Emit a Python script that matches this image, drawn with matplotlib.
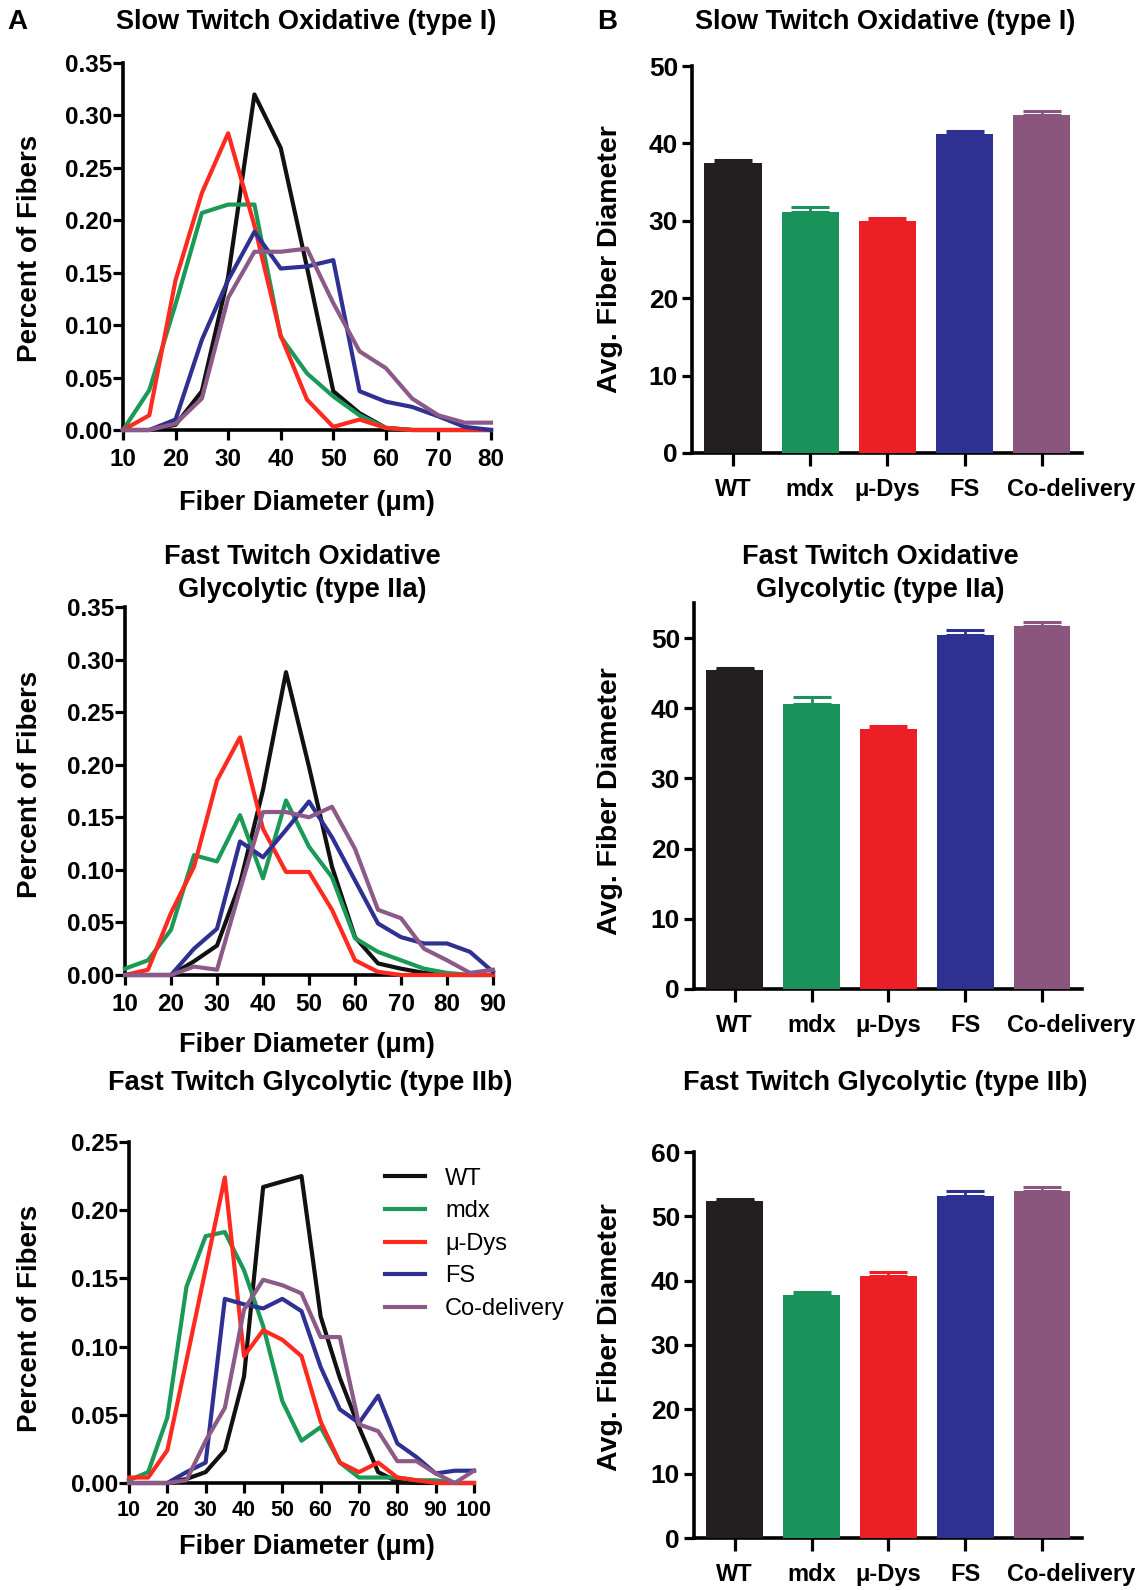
import numpy as np
import matplotlib
matplotlib.use("Agg")
import matplotlib.pyplot as plt
from matplotlib.transforms import ScaledTranslation

plt.rcParams['font.family'] = ['Liberation Sans', 'DejaVu Sans']
plt.rcParams['font.weight'] = 'bold'

# groups and colours
groups = ['WT', 'mdx', 'μ-Dys', 'FS', 'Co-delivery']
line_colors = ['#111111', '#1b9a57', '#ff2a1f', '#2e3192', '#8c5a88']
bar_colors = ['#231f20', '#1a935a', '#ec1f26', '#2e3191', '#8b567e']

# --- fiber diameter distributions (type I), x = 10..80 step 5
x1 = [10, 15, 20, 25, 30, 35, 40, 45, 50, 55, 60, 65, 70, 75, 80]
wt1 = [0, 0, 0.005, 0.037, 0.146, 0.320, 0.269, 0.155, 0.037, 0.016, 0.002, 0, 0, 0, 0]
mdx1 = [0, 0.038, 0.12, 0.207, 0.215, 0.215, 0.089, 0.054, 0.032, 0.014, 0.002, 0, 0, 0, 0]
dys1 = [0, 0.014, 0.143, 0.226, 0.283, 0.195, 0.090, 0.029, 0.003, 0.010, 0.002, 0, 0, 0, 0]
fs1 = [0, 0, 0.010, 0.086, 0.143, 0.189, 0.154, 0.156, 0.162, 0.037, 0.027, 0.022, 0.013, 0.003, 0]
co1 = [0, 0, 0.006, 0.030, 0.126, 0.170, 0.170, 0.173, 0.121, 0.075, 0.059, 0.030, 0.014, 0.007, 0.007]

# --- type IIa, x = 10..90 step 5
x2 = [10, 15, 20, 25, 30, 35, 40, 45, 50, 55, 60, 65, 70, 75, 80, 85, 90]
wt2 = [0, 0, 0, 0.013, 0.028, 0.087, 0.176, 0.288, 0.198, 0.103, 0.036, 0.011, 0.006, 0.002, 0, 0, 0]
mdx2 = [0.006, 0.014, 0.043, 0.114, 0.108, 0.152, 0.092, 0.166, 0.122, 0.093, 0.035, 0.022, 0.014, 0.006, 0.002, 0, 0]
dys2 = [0, 0.005, 0.059, 0.103, 0.185, 0.226, 0.139, 0.098, 0.098, 0.062, 0.014, 0.003, 0, 0, 0, 0, 0]
fs2 = [0, 0, 0, 0.025, 0.044, 0.127, 0.112, 0.138, 0.165, 0.131, 0.090, 0.049, 0.036, 0.030, 0.030, 0.022, 0.003]
co2 = [0, 0, 0, 0.008, 0.005, 0.081, 0.155, 0.155, 0.150, 0.160, 0.120, 0.062, 0.054, 0.025, 0.014, 0.002, 0.005]

# --- type IIb, x = 10..100 step 5
x3 = [10, 15, 20, 25, 30, 35, 40, 45, 50, 55, 60, 65, 70, 75, 80, 85, 90, 95, 100]
wt3 = [0, 0, 0, 0.003, 0.008, 0.024, 0.078, 0.217, 0.221, 0.225, 0.122, 0.077, 0.041, 0.008, 0.001, 0, 0, 0, 0]
mdx3 = [0.002, 0.008, 0.048, 0.144, 0.181, 0.184, 0.156, 0.115, 0.060, 0.031, 0.041, 0.015, 0.004, 0.004, 0.004, 0.002, 0.002, 0, 0]
dys3 = [0.004, 0.004, 0.024, 0.090, 0.157, 0.224, 0.093, 0.112, 0.105, 0.093, 0.045, 0.015, 0.008, 0.015, 0.004, 0.002, 0, 0, 0]
fs3 = [0, 0, 0, 0.008, 0.015, 0.135, 0.131, 0.128, 0.135, 0.126, 0.085, 0.054, 0.044, 0.064, 0.029, 0.019, 0.007, 0.009, 0.009]
co3 = [0, 0, 0, 0.002, 0.031, 0.055, 0.127, 0.149, 0.145, 0.139, 0.107, 0.107, 0.043, 0.038, 0.016, 0.016, 0.007, 0, 0.009]

# --- average fiber diameter (mean, sem)
mean_I = [37.5, 31.1, 30.0, 41.2, 43.7]
sem_I = [0.3, 0.7, 0.35, 0.45, 0.5]
mean_IIa = [45.5, 40.6, 37.0, 50.5, 51.7]
sem_IIa = [0.25, 1.0, 0.5, 0.65, 0.6]
mean_IIb = [52.4, 37.7, 40.8, 53.2, 53.9]
sem_IIb = [0.35, 0.55, 0.6, 0.8, 0.7]

W, H = 1146, 1590
fig = plt.figure(figsize=(W / 100, H / 100), dpi=100)


def px_axes(l, t, r, b):
    return fig.add_axes([l / W, 1 - b / H, (r - l) / W, (b - t) / H])


def style(ax, ticksize=17.5, pad=4):
    for s in ['top', 'right']:
        ax.spines[s].set_visible(False)
    for s in ['left', 'bottom']:
        ax.spines[s].set_linewidth(2.6)
    ax.tick_params(width=2.3, length=7, labelsize=ticksize, pad=pad)


def ftext(x, y, s, size=19.5, **kw):
    fig.text(x / W, 1 - y / H, s, ha='center', va='center', fontsize=size,
             fontweight='bold', **kw)


# line plots
line_sets = [
    (x1, [wt1, mdx1, dys1, fs1, co1], (123, 63, 491, 430), 0.35, range(10, 81, 10)),
    (x2, [wt2, mdx2, dys2, fs2, co2], (125, 607, 493, 975), 0.35, range(10, 91, 10)),
    (x3, [wt3, mdx3, dys3, fs3, co3], (129, 1142, 474, 1483), 0.25, range(10, 101, 10)),
]
for i, (xs, series, box, ymax, xt) in enumerate(line_sets):
    ax = px_axes(*box)
    for name, ys, c in zip(groups, series, line_colors):
        ax.plot(xs, ys, color=c, lw=3, label=name, clip_on=False, zorder=3)
    ax.set_xlim(xs[0], xs[-1])
    ax.set_ylim(0, ymax)
    ax.set_xticks(list(xt))
    ax.set_yticks(np.arange(0, ymax + 0.001, 0.05))
    ax.yaxis.set_major_formatter(matplotlib.ticker.FormatStrFormatter('%.2f'))
    style(ax)
    ax.tick_params(axis='y', pad=1)
    ax.tick_params(axis='x', pad=6)
    if i == 2:
        ax.tick_params(axis='x', labelsize=15.5, pad=5)
        ax.legend(loc='upper left', bbox_to_anchor=(0.742, 0.925), frameon=False,
                  handlelength=1.7, handletextpad=0.85, labelspacing=0.45,
                  borderpad=0, borderaxespad=0, prop={'size': 17, 'weight': 'normal'})

# bar plots
bar_sets = [
    (mean_I, sem_I, (692, 66, 1082, 453), 50, range(0, 51, 10)),
    (mean_IIa, sem_IIa, (694, 603, 1082, 989), 55, range(0, 51, 10)),
    (mean_IIb, sem_IIb, (694, 1152, 1082, 1538), 60, range(0, 61, 10)),
]
xpos = np.arange(len(groups))
for means, sems, box, ymax, yt in bar_sets:
    ax = px_axes(*box)
    ax.bar(xpos, means, width=0.74, color=bar_colors, zorder=3)
    for xp, m, s, c in zip(xpos, means, sems, bar_colors):
        ax.errorbar(xp, m, yerr=[[0], [s]], fmt='none', ecolor=c, elinewidth=2,
                    capsize=14, capthick=2.2, zorder=2)
    ax.set_xlim(-0.53, 4.52)
    ax.set_ylim(0, ymax)
    ax.set_yticks(list(yt))
    ax.set_xticks(xpos)
    ax.set_xticklabels(groups)
    style(ax, ticksize=19, pad=3)
    ax.tick_params(axis='x', labelsize=17, pad=9, length=9)
    # last label sits to the right of its tick, as in the original
    last = ax.get_xticklabels()[-1]
    last.set_transform(last.get_transform() + ScaledTranslation(0.29, 0, fig.dpi_scale_trans))

# titles and labels
ftext(17, 22, 'A', size=20)
ftext(607, 22, 'B', size=20)
ftext(306, 22, 'Slow Twitch Oxidative (type I)')
ftext(885, 22, 'Slow Twitch Oxidative (type I)')
ftext(302, 557, 'Fast Twitch Oxidative')
ftext(302, 590, 'Glycolytic (type IIa)')
ftext(880, 557, 'Fast Twitch Oxidative')
ftext(880, 590, 'Glycolytic (type IIa)')
ftext(310, 1083, 'Fast Twitch Glycolytic (type IIb)')
ftext(885, 1083, 'Fast Twitch Glycolytic (type IIb)')

for y in [503, 1045, 1547]:
    ftext(307, y, 'Fiber Diameter (μm)', size=19.5)
for y in [248, 784, 1318]:
    ftext(30, y, 'Percent of Fibers', size=20, rotation=90)
for y in [259, 801, 1337]:
    ftext(610, y, 'Avg. Fiber Diameter', size=20.5, rotation=90)

fig.savefig('out.png', dpi=100)
